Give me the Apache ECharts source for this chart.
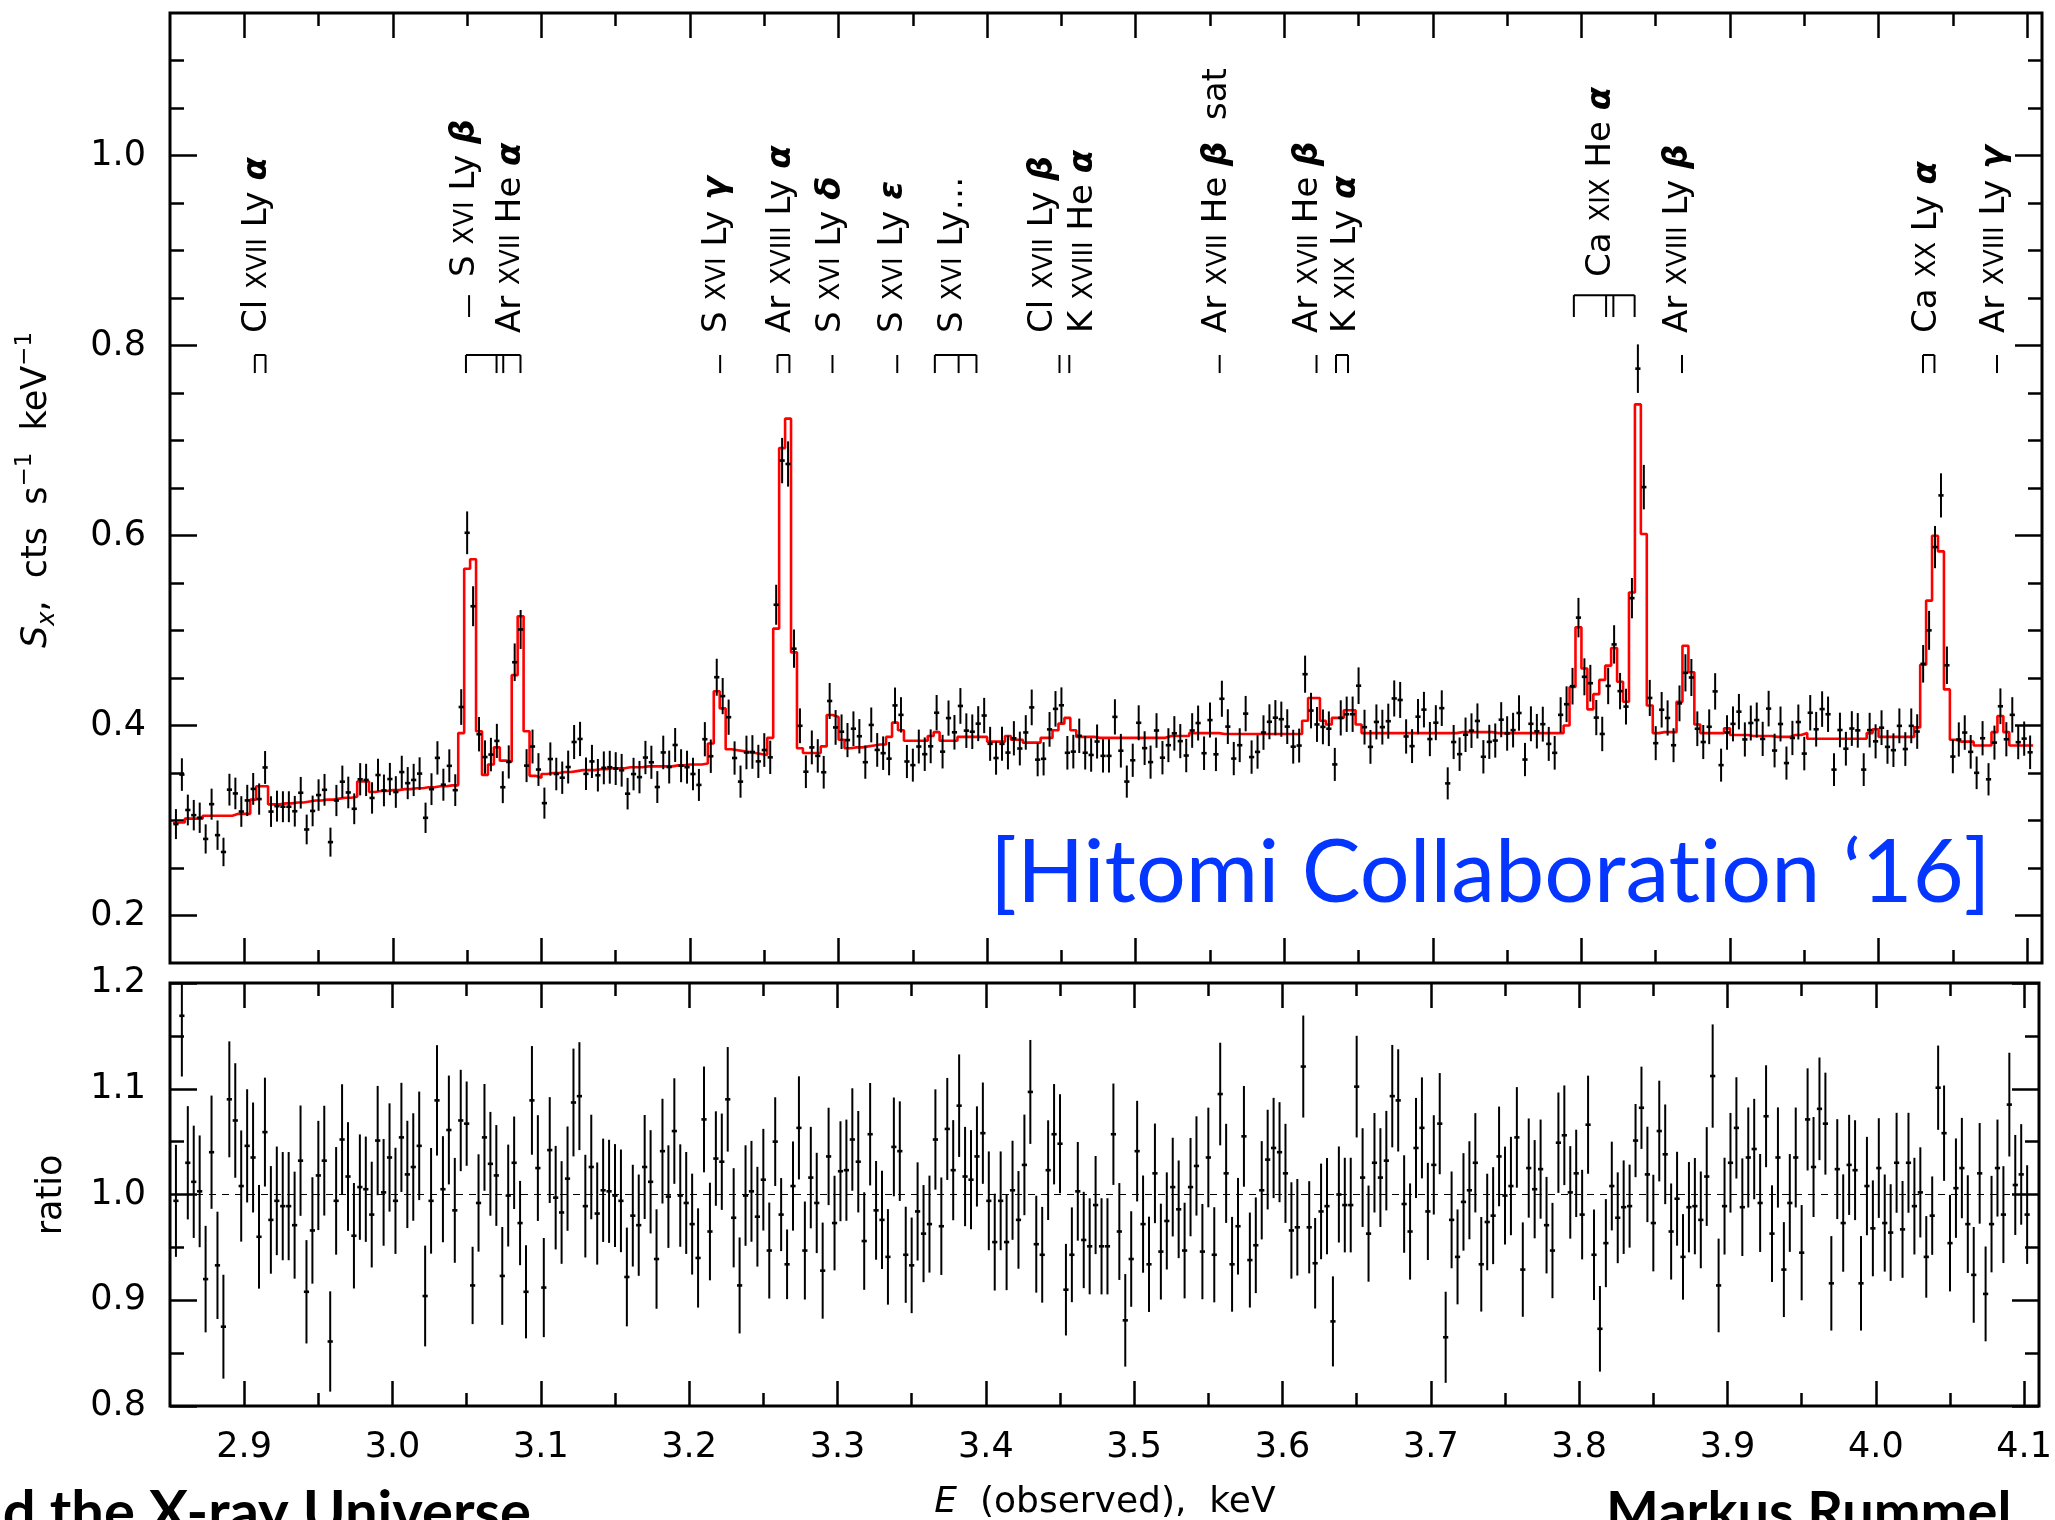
<!DOCTYPE html>
<html><head><meta charset="utf-8">
<script src="https://cdn.jsdelivr.net/npm/echarts@6/dist/echarts.min.js"></script>
<style>html,body{margin:0;padding:0;background:#fff}#c{width:2055px;height:1520px}</style>
</head><body><div id="c"></div>
<script>
// ---- spectral binning (bin grid of the spectrum) ----
const BIN_FIRST_CENTER = 2.854;   // keV
const BIN_WIDTH = 0.004;          // keV

// ---- model (red step histogram), cts s^-1 keV^-1, one value per bin ----
const MODEL = [
0.298,0.298,0.302,0.302,0.302,0.305,0.305,0.305,0.305,0.305,
0.307,0.307,0.307,0.322,0.336,0.336,0.317,0.317,0.318,0.318,
0.319,0.319,0.320,0.321,0.321,0.322,0.322,0.323,0.324,0.324,
0.325,0.341,0.341,0.330,0.331,0.331,0.332,0.332,0.333,0.333,
0.334,0.334,0.335,0.335,0.336,0.336,0.337,0.337,0.392,0.565,
0.575,0.394,0.348,0.359,0.377,0.363,0.362,0.453,0.515,0.394,
0.347,0.345,0.349,0.350,0.350,0.351,0.351,0.352,0.353,0.353,
0.353,0.354,0.354,0.355,0.355,0.355,0.356,0.356,0.356,0.357,
0.357,0.357,0.357,0.357,0.358,0.358,0.359,0.359,0.359,0.360,
0.381,0.436,0.418,0.375,0.374,0.373,0.372,0.371,0.370,0.369,
0.387,0.502,0.692,0.723,0.477,0.376,0.371,0.371,0.371,0.378,
0.411,0.409,0.385,0.376,0.377,0.377,0.378,0.379,0.380,0.380,
0.388,0.403,0.395,0.384,0.384,0.384,0.384,0.389,0.393,0.384,
0.384,0.384,0.388,0.388,0.388,0.388,0.388,0.383,0.383,0.383,
0.389,0.385,0.385,0.382,0.382,0.382,0.387,0.387,0.395,0.402,
0.408,0.395,0.388,0.388,0.388,0.387,0.387,0.387,0.387,0.387,
0.387,0.387,0.387,0.387,0.387,0.387,0.387,0.389,0.389,0.389,
0.389,0.392,0.392,0.392,0.392,0.392,0.391,0.391,0.391,0.391,
0.391,0.391,0.391,0.391,0.391,0.391,0.391,0.391,0.391,0.391,
0.405,0.429,0.429,0.405,0.401,0.408,0.408,0.416,0.416,0.401,
0.392,0.392,0.392,0.392,0.392,0.392,0.392,0.392,0.392,0.392,
0.392,0.392,0.392,0.392,0.392,0.392,0.393,0.393,0.393,0.393,
0.393,0.393,0.392,0.392,0.392,0.392,0.392,0.392,0.392,0.392,
0.392,0.392,0.392,0.392,0.400,0.4405,0.5035,0.460,0.417,0.433,
0.448,0.463,0.4815,0.446,0.425,0.540,0.738,0.6016,0.421,0.392,
0.393,0.393,0.393,0.425,0.484,0.456,0.401,0.392,0.392,0.392,
0.392,0.397,0.390,0.390,0.390,0.389,0.389,0.389,0.389,0.388,
0.388,0.388,0.390,0.390,0.392,0.386,0.386,0.386,0.386,0.386,
0.386,0.386,0.386,0.386,0.386,0.392,0.396,0.388,0.388,0.388,
0.388,0.388,0.388,0.398,0.464,0.5315,0.5998,0.5833,0.438,0.385,
0.383,0.383,0.383,0.379,0.379,0.379,0.393,0.410,0.393,0.379,
0.379,0.379,0.379
];

// ---- data / model ratio, one value per bin ----
const RATIO = [
0.994,1.169,1.030,1.012,1.003,0.920,1.040,0.933,0.875,1.090,
1.070,1.008,1.046,1.035,0.960,1.059,0.976,0.994,0.989,0.989,
0.971,1.032,0.908,0.966,1.018,1.032,0.861,0.994,1.052,1.017,
0.961,1.007,1.005,0.981,1.051,1.002,1.035,0.994,1.054,1.019,
1.026,1.046,0.904,0.994,1.089,1.005,1.061,0.985,1.070,1.067,
0.914,0.992,1.054,1.029,1.018,0.923,0.999,1.030,0.973,0.908,
1.089,1.025,0.912,1.042,0.997,0.983,1.015,1.087,1.093,0.989,
1.026,0.982,1.004,1.003,0.999,0.994,0.922,0.980,0.971,1.026,
1.012,0.939,1.041,0.998,1.060,0.999,0.992,0.972,0.940,
1.071,0.965,1.034,1.031,1.090,0.978,0.914,0.999,1.003,0.979,
1.014,0.947,1.050,0.981,0.934,1.008,1.063,0.947,1.016,0.992,
0.928,1.036,0.973,1.022,1.023,1.052,1.031,0.956,1.057,0.985,
0.976,0.941,1.045,1.041,0.943,0.933,0.984,0.963,0.972,1.052,
0.970,1.062,1.023,1.084,1.017,1.014,1.036,1.058,0.994,0.955,
0.994,0.955,1.004,0.976,1.028,1.097,0.953,0.943,1.023,1.057,
1.048,0.910,0.943,1.003,0.957,0.951,0.990,0.951,0.951,1.057,
0.965,0.881,0.939,1.041,0.972,0.934,1.020,0.946,0.975,1.007,
0.986,0.947,1.007,1.027,0.946,1.035,0.943,1.095,1.020,0.934,
0.970,1.055,0.938,0.952,1.004,1.033,1.044,1.040,1.020,0.966,
0.969,1.121,0.969,0.935,0.984,0.989,0.880,
1.000,0.990,0.990,
1.102,1.016,0.963,1.030,1.016,1.032,1.093,1.089,0.991,0.965,
1.044,1.063,0.984,1.028,1.067,0.865,0.976,0.941,0.993,1.004,
1.030,0.934,0.974,0.980,1.036,0.999,1.008,1.054,0.929,1.025,
1.005,1.024,0.971,0.947,1.049,1.056,1.002,1.020,0.981,1.066,
0.943,0.873,0.954,1.008,0.978,0.988,0.989,1.051,1.082,1.019,
0.973,1.060,1.038,0.965,0.996,0.941,0.988,0.989,0.976,1.017,
1.112,0.914,0.989,1.030,1.063,0.988,1.035,1.043,0.992,1.074,
0.963,1.035,0.929,0.992,1.035,0.945,1.071,1.026,1.081,1.067,
0.916,1.024,0.973,1.028,1.023,0.916,1.008,0.968,1.025,0.973,
0.964,1.030,0.967,1.030,0.989,1.002,0.941,0.980,1.101,1.058,
0.954,
1.006,
1.025,0.972,0.924,1.020,0.906,0.972,1.025,0.981,1.085,1.009,1.019,0.981
];

// error bars follow counting statistics: sigma = ERR_K * sqrt(flux)
const ERR_K = 0.029;

// ---- axis ticks / labels ----
const X_MIN = 2.85, X_MAX = 4.11;
const X_MAJOR = [2.9,3.0,3.1,3.2,3.3,3.4,3.5,3.6,3.7,3.8,3.9,4.0,4.1];
const X_MINOR = [2.95,3.05,3.15,3.25,3.35,3.45,3.55,3.65,3.75,3.85,3.95,4.05];
const Y1_MIN = 0.15, Y1_MAX = 1.15;
const Y1_MAJOR = [0.2,0.4,0.6,0.8,1.0];
const Y1_MINOR = [0.25,0.3,0.35,0.45,0.5,0.55,0.65,0.7,0.75,0.85,0.9,0.95,1.05,1.1];
const Y2_MIN = 0.8, Y2_MAX = 1.2;
const Y2_MAJOR = [0.8,0.9,1.0,1.1,1.2];
const Y2_MINOR = [0.85,0.95,1.05,1.15];

// ---- line identifications ----
const LINE_LABELS = [
 {e:2.9090, text:'Cl {r|XVII} Ly {g|α}'},
 {e:3.0486, text:'S {r|XVI} Ly {g|β}', raised:true},
 {e:3.0795, text:'Ar {r|XVII} He {g|α}'},
 {e:3.2182, text:'S {r|XVI} Ly {g|γ}'},
 {e:3.2616, text:'Ar {r|XVIII} Ly {g|α}'},
 {e:3.2949, text:'S {r|XVI} Ly {g|δ}'},
 {e:3.3369, text:'S {r|XVI} Ly {g|ε}'},
 {e:3.3768, text:'S {r|XVI} Ly…'},
 {e:3.4380, text:'Cl {r|XVII} Ly {g|β}'},
 {e:3.4647, text:'K {r|XVIII} He {g|α}'},
 {e:3.5551, text:'Ar {r|XVII} He {g|β}  sat'},
 {e:3.6164, text:'Ar {r|XVII} He {g|β}'},
 {e:3.6415, text:'K {r|XIX} Ly {g|α}'},
 {e:3.8132, text:'Ca {r|XIX} He {g|α}', raised:true},
 {e:3.8651, text:'Ar {r|XVIII} Ly {g|β}'},
 {e:4.0325, text:'Ca {r|XX} Ly {g|α}'},
 {e:4.0784, text:'Ar {r|XVIII} Ly {g|γ}'}
];
const LINE_MARKERS = [
 {e:[2.9071,2.9143], bar:true},
 {e:[3.0513], raised:true},
 {e:[3.0492,3.0698,3.0743,3.0859], bar:true},
 {e:[3.2203]},
 {e:[3.2589,3.2669], bar:true},
 {e:[3.2959]},
 {e:[3.3395]},
 {e:[3.3648,3.3808,3.3928], bar:true},
 {e:[3.4487]},
 {e:[3.4553]},
 {e:[3.5565]},
 {e:[3.6217]},
 {e:[3.6348,3.6429], bar:true},
 {e:[3.7949,3.8166,3.8215,3.8358], bar:true, raised:true},
 {e:[3.8677]},
 {e:[4.0299,4.0376], bar:true},
 {e:[4.0797]}
];

// ================= build =================
const FONT = 'DejaVu Sans';
const energies = MODEL.map((_, i) => BIN_FIRST_CENTER + i * BIN_WIDTH);
const flux = RATIO.map((r, i) => r * MODEL[i]);
const fluxErr = flux.map(f => ERR_K * Math.sqrt(f));
const topData = energies.map((e, i) => [e, flux[i], fluxErr[i]]);
const ratioData = energies.map((e, i) => [e, RATIO[i], fluxErr[i] / MODEL[i]]);
const stepData = [];
energies.forEach((e, i) => { stepData.push([e - BIN_WIDTH/2, MODEL[i]]); stepData.push([e + BIN_WIDTH/2, MODEL[i]]); });

const chart = echarts.init(document.getElementById('c'), null, {renderer:'canvas'});

function tickAxis(kind, gridIndex, pos, min, max, values, len, labels) {
  const ax = {
    type:'value', gridIndex, position:pos, min, max,
    splitLine:{show:false}, axisPointer:{show:false},
    axisLine:{show:false, onZero:false},
    axisTick:{show:true, inside:true, length:len, customValues:values, lineStyle:{color:'#000', width:2.5}},
    axisLabel:{show:false}
  };
  if (labels) {
    ax.axisLabel = {show:true, customValues:labels, formatter:v => v.toFixed(1),
      color:'#000', fontSize:35, fontFamily:FONT, margin: kind === 'x' ? 24 : 24};
  }
  return ax;
}

const xAxes = [];
const yAxes = [];
[0,1].forEach(g => {
  xAxes.push(tickAxis('x', g, 'bottom', X_MIN, X_MAX, X_MAJOR, 25, g === 1 ? X_MAJOR : null));
  xAxes.push(tickAxis('x', g, 'bottom', X_MIN, X_MAX, X_MINOR, 13, null));
  xAxes.push(tickAxis('x', g, 'top', X_MIN, X_MAX, X_MAJOR, 25, null));
  xAxes.push(tickAxis('x', g, 'top', X_MIN, X_MAX, X_MINOR, 13, null));
  const ymin = g === 0 ? Y1_MIN : Y2_MIN, ymax = g === 0 ? Y1_MAX : Y2_MAX;
  const maj = g === 0 ? Y1_MAJOR : Y2_MAJOR, mnr = g === 0 ? Y1_MINOR : Y2_MINOR;
  yAxes.push(tickAxis('y', g, 'left', ymin, ymax, maj, 27, maj));
  yAxes.push(tickAxis('y', g, 'left', ymin, ymax, mnr, 14, null));
  yAxes.push(tickAxis('y', g, 'right', ymin, ymax, maj, 27, null));
  yAxes.push(tickAxis('y', g, 'right', ymin, ymax, mnr, 14, null));
});

function renderErr(params, api) {
  const x = api.value(0), y = api.value(1), e = api.value(2);
  const t = api.coord([x, y + e]), b = api.coord([x, y - e]), c = api.coord([x, y]);
  return {type:'group', children:[
    {type:'line', shape:{x1:t[0], y1:t[1], x2:b[0], y2:b[1]}, style:{stroke:'#000', lineWidth:2}},
    {type:'line', shape:{x1:c[0]-2.6, y1:c[1], x2:c[0]+2.6, y2:c[1]}, style:{stroke:'#000', lineWidth:2.6}}
  ]};
}

const ROW_LOW = [0.790, 0.771], ROW_HIGH = [0.853, 0.830];
const LABEL_START_LOW = 0.8132, LABEL_START_HIGH = 0.8721;

function renderMarker(params, api) {
  const m = LINE_MARKERS[params.dataIndex];
  const row = m.raised ? ROW_HIGH : ROW_LOW;
  const pts = m.e.map(e => [api.coord([e, row[0]]), api.coord([e, row[1]])]);
  const st = {stroke:'#000', lineWidth:2};
  const children = pts.map(p => ({type:'line', shape:{x1:p[0][0], y1:p[0][1], x2:p[1][0], y2:p[1][1]}, style:st}));
  if (m.bar) {
    const a = pts[0][0], z = pts[pts.length-1][0];
    children.push({type:'line', shape:{x1:a[0], y1:a[1], x2:z[0], y2:z[1]}, style:st});
  }
  return {type:'group', children};
}

const RICH_LINES = {
  r:{fontSize:26, fontFamily:FONT, fill:'#000', lineHeight:42, verticalAlign:'middle', padding:[3,0,0,0]},
  g:{fontSize:34, fontFamily:FONT, fill:'#000', fontStyle:'italic', fontWeight:'bold', lineHeight:42}
};
function renderLabel(params, api) {
  const L = LINE_LABELS[params.dataIndex];
  const p = api.coord([L.e, L.raised ? LABEL_START_HIGH : LABEL_START_LOW]);
  return {type:'text', x:p[0], y:p[1], rotation:Math.PI/2,
    style:{text:L.text, rich:RICH_LINES, fontSize:34, fontFamily:FONT, fill:'#000',
      lineHeight:42, align:'left', verticalAlign:'middle'}};
}

const option = {
  animation:false,
  backgroundColor:'#ffffff',
  grid:[
    {left:170, top:13, width:1872, height:950, show:true, borderColor:'#000', borderWidth:3, backgroundColor:'transparent'},
    {left:170, top:983, width:1872, height:423, show:true, borderColor:'#000', borderWidth:3, backgroundColor:'transparent'}
  ],
  xAxis:xAxes,
  yAxis:yAxes,
  series:[
    {type:'line', xAxisIndex:0, yAxisIndex:0, data:stepData, showSymbol:false, symbol:'none',
     lineStyle:{color:'#ff0000', width:2.6}, z:3, clip:true},
    {type:'custom', xAxisIndex:0, yAxisIndex:0, data:topData, renderItem:renderErr, z:4, clip:true},
    {type:'custom', xAxisIndex:0, yAxisIndex:0, data:LINE_MARKERS.map(m => [m.e[0]]), renderItem:renderMarker, z:5},
    {type:'custom', xAxisIndex:0, yAxisIndex:0, data:LINE_LABELS.map(l => [l.e]), renderItem:renderLabel, z:5},
    {type:'line', xAxisIndex:4, yAxisIndex:4, data:[[X_MIN,1],[X_MAX,1]], showSymbol:false, symbol:'none',
     lineStyle:{color:'#000', width:1.2, type:[7,6]}, z:2},
    {type:'custom', xAxisIndex:4, yAxisIndex:4, data:ratioData, renderItem:renderErr, z:4, clip:true}
  ],
  graphic:[
    {type:'text', x:37, y:490, rotation:Math.PI/2, z:10,
     style:{text:'{i|S}{sub|x},  cts  s{sup|−1}  keV{sup|−1}', fontSize:35, fontFamily:FONT, fill:'#000',
       align:'center', verticalAlign:'middle', lineHeight:46,
       rich:{
         i:{fontSize:35, fontFamily:FONT, fontStyle:'italic', fill:'#000', lineHeight:46},
         sub:{fontSize:24, fontFamily:FONT, fontStyle:'italic', fill:'#000', lineHeight:30, verticalAlign:'bottom'},
         sup:{fontSize:23, fontFamily:FONT, fill:'#000', lineHeight:30, verticalAlign:'top'}
       }}},
    {type:'text', x:52, y:1195, rotation:Math.PI/2, z:10,
     style:{text:'ratio', fontSize:35, fontFamily:FONT, fill:'#000', align:'center', verticalAlign:'middle'}},
    {type:'text', x:1105, y:1503, z:10,
     style:{text:'{i|E}  (observed),  keV', fontSize:36, fontFamily:FONT, fill:'#000', align:'center', verticalAlign:'middle',
       rich:{i:{fontSize:36, fontFamily:FONT, fontStyle:'italic', fill:'#000'}}}},
    {type:'text', x:990, y:874, z:10,
     style:{text:'[Hitomi Collaborat\u200Cion ‘16]', fontSize:88, fontFamily:'Lato', fill:'#0536ff', align:'left', verticalAlign:'middle'}},
    {type:'text', x:531, y:1513, z:10,
     style:{text:'d the X-ray Universe', fontSize:58, fontFamily:'Lato', fontWeight:'bold', fill:'#000', align:'right', verticalAlign:'middle'}},
    {type:'text', x:1606, y:1513, z:10,
     style:{text:'Markus Rummel', fontSize:56, fontFamily:'Lato', fontWeight:'bold', fill:'#000', align:'left', verticalAlign:'middle'}}
  ]
};
chart.setOption(option);
</script></body></html>
